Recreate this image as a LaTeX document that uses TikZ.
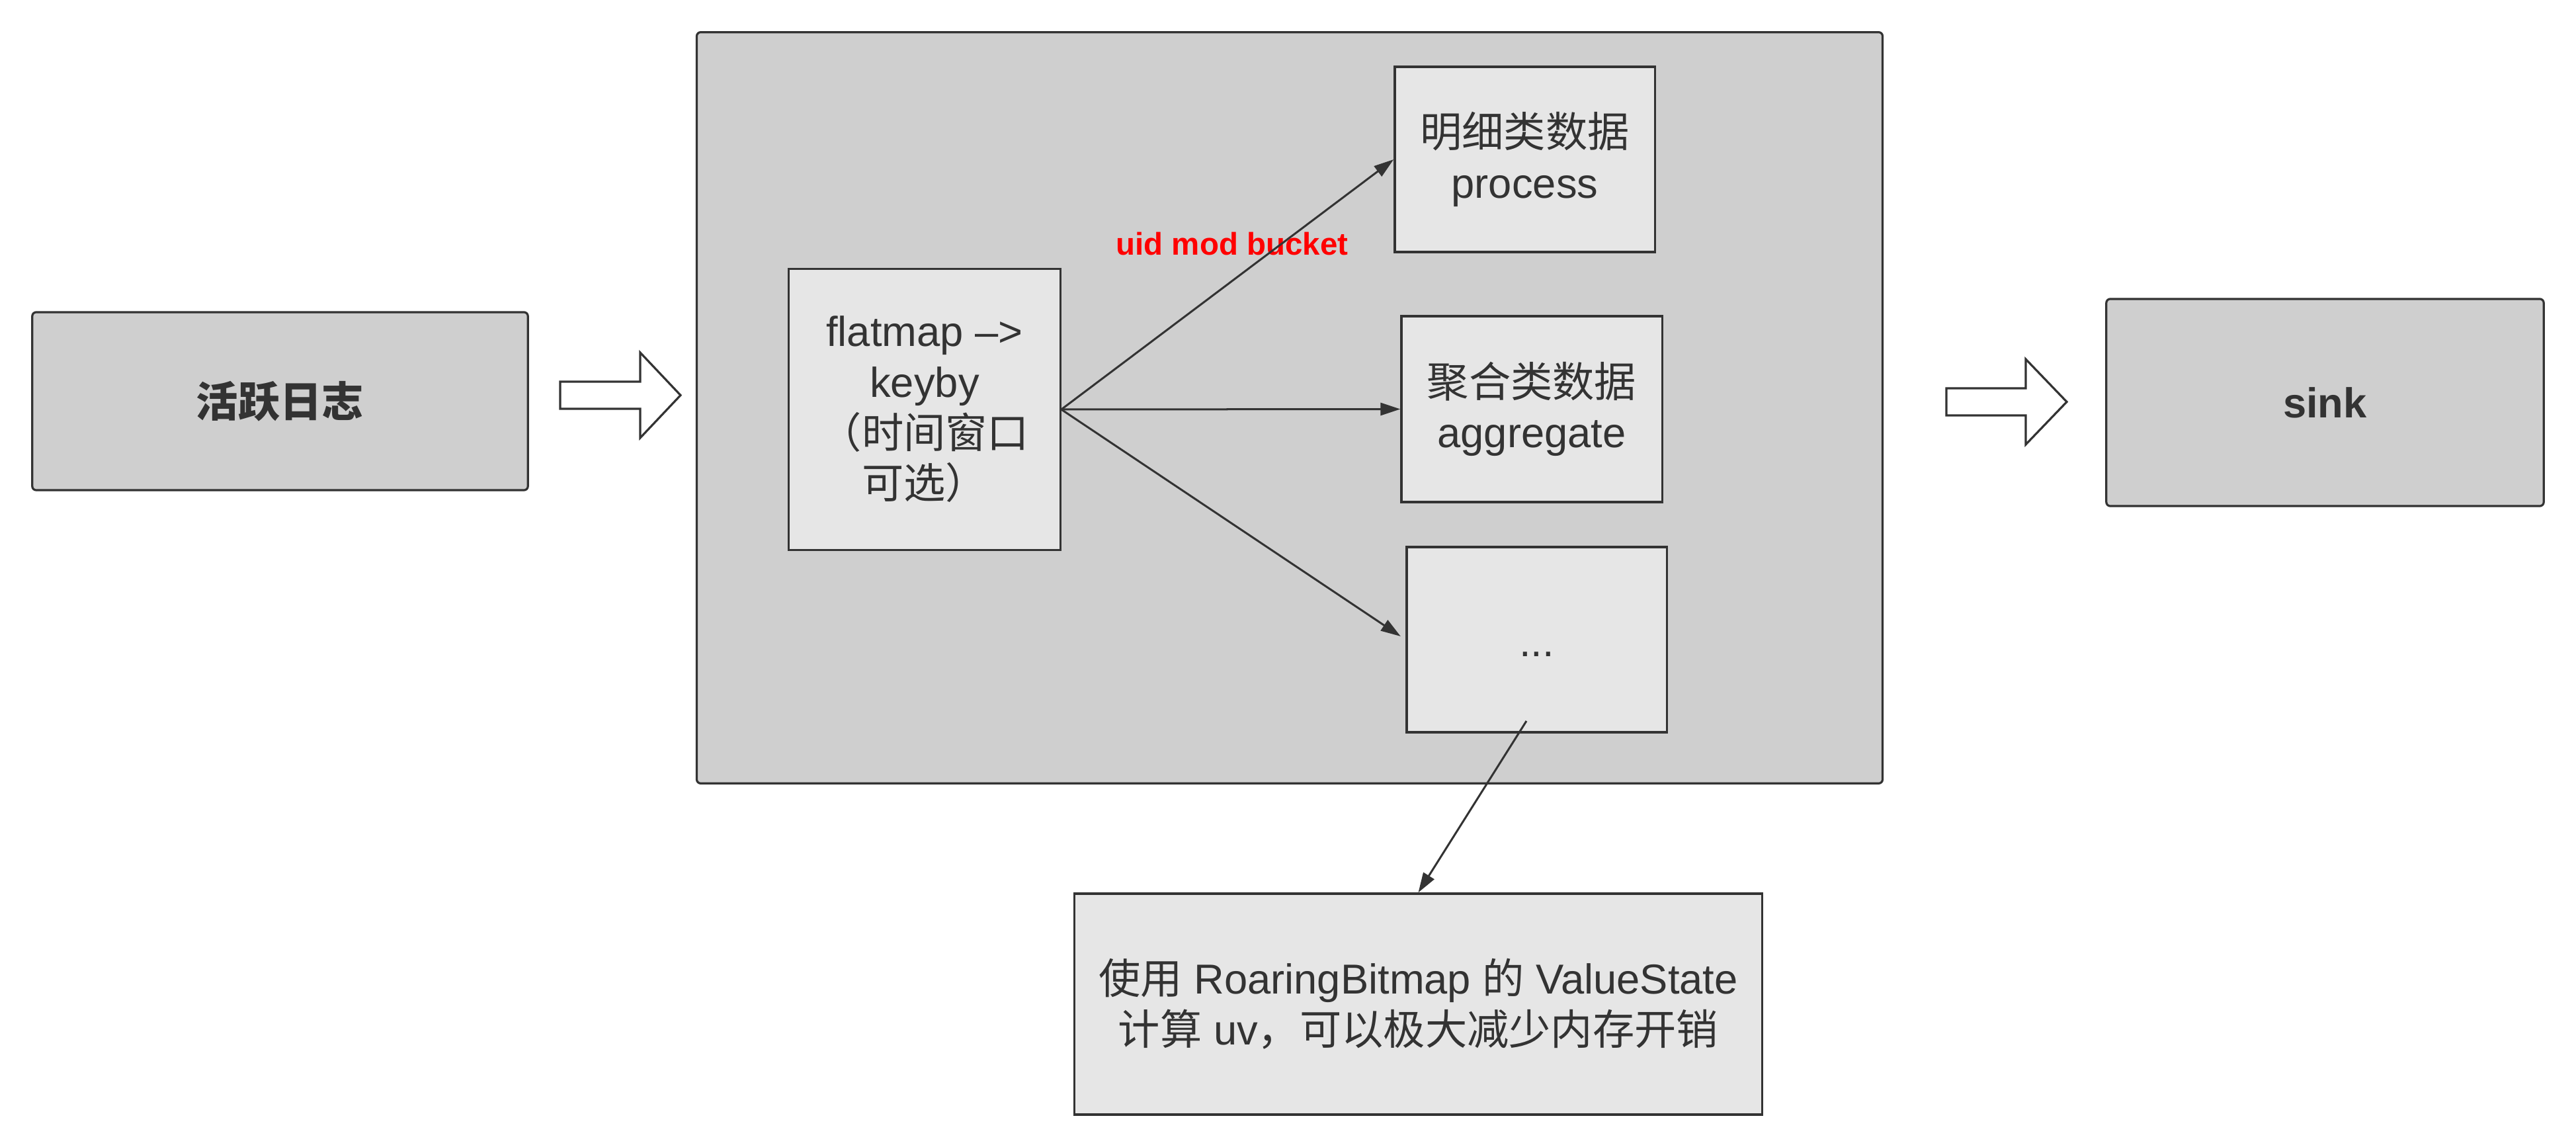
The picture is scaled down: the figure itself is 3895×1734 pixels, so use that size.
\documentclass[tikz,border=0pt]{standalone}
\usepackage{fontspec}
\setmainfont{Liberation Sans}
\newfontfamily\cjk{Noto Sans CJK SC}
\usetikzlibrary{arrows.meta}
\definecolor{ink}{HTML}{333333}
\definecolor{outerfill}{HTML}{CFCFCF}
\definecolor{innerfill}{HTML}{E6E6E6}
\definecolor{redlabel}{HTML}{FF0000}
\begin{document}
\begin{tikzpicture}[x=0.01cm,y=-0.01cm,
  base/.style={draw=ink, line width=0.032cm, text=ink, align=center, inner sep=0pt,
    font=\fontsize{18}{21.8}\selectfont},
  rbox/.style={base, fill=outerfill, rounded corners=0.06cm},
  ibox/.style={base, fill=innerfill},
  conn/.style={draw=ink, line width=0.03cm, -{Triangle[length=0.3cm,width=0.19cm]}},
  blockarrow/.style={draw=ink, line width=0.032cm, fill=white, line join=miter},
]
\useasboundingbox (0,0) rectangle (3895,1734);

% outer boxes
\node[rbox, minimum width=7.49cm, minimum height=2.69cm,
      font=\fontsize{18}{21.8}\selectfont\bfseries] (log) at (423.5,606.5) {\cjk\bfseries 活跃日志};
\node[rbox, minimum width=17.92cm, minimum height=11.35cm] (cont) at (1950,616.5) {};
\node[rbox, minimum width=6.61cm, minimum height=3.13cm,
      font=\fontsize{18}{21.8}\selectfont\bfseries] (sink) at (3515.5,608.5) {sink};

% inner boxes
\node[ibox, minimum width=4.10cm, minimum height=4.24cm] (flat) at (1398,619)
  {flatmap –>\\keyby\\{\cjk （时间窗口}\\{\cjk 可选）}};
\node[ibox, minimum width=3.93cm, minimum height=2.80cm] (proc) at (2305.5,241)
  {{\cjk 明细类数据}\\process};
\node[ibox, minimum width=3.94cm, minimum height=2.81cm] (agg) at (2316,618.5)
  {{\cjk 聚合类数据}\\aggregate};
\node[ibox, minimum width=3.93cm, minimum height=2.80cm, text height=0.5cm, text depth=0pt] (dots) at (2323.5,967)
  {...};
\node[ibox, minimum width=10.39cm, minimum height=3.34cm] (bottom) at (2144.5,1518)
  {{\cjk 使用} RoaringBitmap {\cjk 的} ValueState\\{\cjk 计算} uv{\cjk ，可以极大减少内存开销}};

% label
\node[font=\fontsize{13.5}{16}\selectfont\bfseries, text=redlabel, anchor=base, inner sep=0pt]
  (lbl) at (1863,386) {uid mod bucket};

% connectors
\coordinate (dotsout) at (2308,1090);
\draw[conn] (flat.east) -- (proc.west);
\draw[conn] (flat.east) -- (agg.west);
\draw[conn, shorten >=0.09cm] (flat.east) -- (dots.west);
\draw[conn] (dotsout) -- (bottom.north);

% block arrows
\draw[blockarrow] (847,577) -- (968,577) -- (968,533) -- (1029,597.5) -- (968,662)
  -- (968,618) -- (847,618) -- cycle;
\draw[blockarrow] (2943,587) -- (3063,587) -- (3063,543) -- (3125,607.5) -- (3063,672)
  -- (3063,628) -- (2943,628) -- cycle;
\end{tikzpicture}
\end{document}
